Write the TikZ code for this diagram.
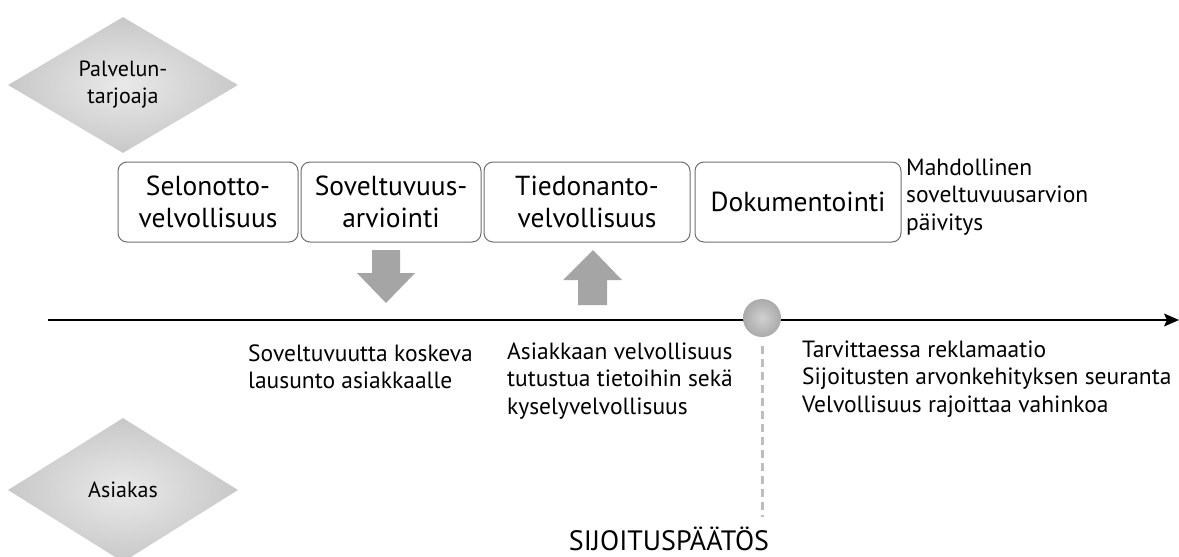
\documentclass[tikz,border=0pt]{standalone}
\usepackage{fontspec}
\setmainfont{PT Sans}
\usetikzlibrary{shapes.geometric}
\usetikzlibrary{positioning}
\usetikzlibrary{arrows.meta}

\begin{document}
\begin{tikzpicture}[x=1pt,y=1pt,node distance=2pt,
	role node/.style={diamond,shading=radial,inner color=boxfill!40,outer color=boxfill,minimum width=230pt,minimum height=136pt,inner sep=0pt,align=center,font=\fontsize{22}{27}\selectfont},
	phase node/.style={draw=frame,line width=1pt,rounded corners=9pt,minimum height=80pt,inner sep=0pt,align=center,font=\fontsize{27.5}{32}\selectfont},
	note node/.style={anchor=west,align=left,inner sep=0pt,font=\fontsize{23.5}{27.5}\selectfont},
	block arrow/.style={fill=arrowgray}]
	
	\definecolor{boxfill}{RGB}{200,200,200}
	\definecolor{frame}{RGB}{110,110,110}
	\definecolor{arrowgray}{RGB}{165,165,165}
	\definecolor{dashgray}{RGB}{190,190,190}
	\definecolor{ballgray}{RGB}{170,170,170}
	
	\useasboundingbox (0,0) rectangle (1179,-557);
	
	% roles
	\node[role node] (prov) at (123,-85) {Palvelun-\\tarjoaja};
	\node[role node,minimum height=144pt] (cust) at (123,-490) {Asiakas};
	
	% phases
	\node[phase node,minimum width=180pt] (sel) at (208,-202) {Selonotto-\\velvollisuus};
	\node[phase node,minimum width=180pt,right=of sel] (sov) {Soveltuvuus-\\arviointi};
	\node[phase node,minimum width=206pt,right=of sov] (tie) {Tiedonanto-\\velvollisuus};
	\node[phase node,minimum width=206pt,right=4pt of tie] (dok) {Dokumentointi};
	\node[note node] (paiv) at (906,-197) {Mahdollinen\\soveltuvuusarvion\\päivitys};
	
	% block arrows
	\coordinate (down) at (372,-250);
	\coordinate (up) at (593,-250);
	\fill[block arrow] (down) -- ++(28,0) -- ++(0,-23) -- ++(15,0) -- ++(-29,-30) -- ++(-29,30) -- ++(15,0) -- cycle;
	\fill[block arrow] (up) -- ++(29,-30) -- ++(-15,0) -- ++(0,-25) -- ++(-29,0) -- ++(0,25) -- ++(-15,0) -- cycle;
	
	% timeline
	\coordinate (t0) at (48,-320);
	\coordinate (t1) at (1179,-320);
	\draw[line width=1.6pt,-{Stealth[length=15pt,width=13pt,inset=3pt]}] (t0) -- (t1);
	
	\node[circle,shading=radial,inner color=ballgray!55,outer color=ballgray,minimum size=38pt,inner sep=0pt] (dec) at (762,-318) {};
	\coordinate (dend) at (762,-517);
	\draw[dashgray,line width=3pt,dash pattern=on 8pt off 5pt] ([yshift=-9pt]dec.south) -- (dend);
	\node[anchor=base,inner sep=0pt,font=\fontsize{28}{30}\selectfont] (paatos) at (669,-550) {SIJOITUSPÄÄTÖS};
	
	\node[note node] (lausunto) at (248,-367) {Soveltuvuutta koskeva\\lausunto asiakkaalle};
	\node[note node] (velv) at (507,-381) {Asiakkaan velvollisuus\\tutustua tietoihin sekä\\kyselyvelvollisuus};
	\node[note node] (reklam) at (802,-379) {Tarvittaessa reklamaatio\\Sijoitusten arvonkehityksen seuranta\\Velvollisuus rajoittaa vahinkoa};
\end{tikzpicture}
\end{document}
